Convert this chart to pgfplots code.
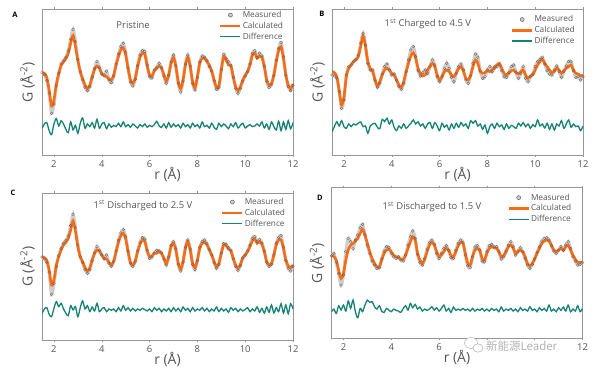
\documentclass[border=0pt]{standalone}
\usepackage{fontspec}
\setmainfont{Open Sans}
\newfontfamily\cjk{Noto Sans CJK SC}
\usepackage{pgfplots}
\usepackage{pgfplotstable}
\pgfplotsset{compat=1.18}
\definecolor{calc}{RGB}{250,108,20}
\definecolor{diffc}{RGB}{22,130,115}
\definecolor{measband}{RGB}{205,205,205}
\definecolor{measedge}{RGB}{95,95,95}
\definecolor{framec}{RGB}{150,150,150}
\definecolor{txt}{RGB}{85,85,85}

\pgfplotstableread{
r m c d
1.5 218 218 385
1.6 224 220 372
1.7 242 232 368
1.8 280 270 392
1.9 340 318 404
2.0 312 300 372
2.1 258 252 356
2.2 220 222 378
2.3 192 197 362
2.4 182 186 372
2.5 172 176 388
2.6 152 160 398
2.7 118 130 366
2.8 88 107 390
2.9 125 140 376
3.0 178 182 400
3.1 215 215 370
3.2 240 236 354
3.3 262 255 385
3.4 272 266 372
3.5 260 255 380
3.6 232 230 368
3.7 205 208 384
3.8 185 198 358
3.9 202 205 385
4.0 222 220 372
4.1 225 228 368
4.2 214 230 386
4.3 240 237 372
4.4 248 240 382
4.5 228 225 376
4.6 192 195 380
4.7 162 170 370
4.8 140 150 380
4.9 130 143 366
5.0 157 165 380
5.1 204 205 374
5.2 246 240 382
5.3 258 250 372
5.4 238 235 378
5.5 197 200 384
5.6 165 172 374
5.7 152 160 380
5.8 155 163 372
5.9 195 198 382
6.0 230 225 376
6.1 234 228 380
6.2 210 212 374
6.3 203 205 364
6.4 190 198 378
6.5 203 205 382
6.6 228 225 372
6.7 250 243 384
6.8 226 225 368
6.9 186 190 382
7.0 165 173 372
7.1 198 200 380
7.2 250 245 374
7.3 276 266 384
7.4 243 240 370
7.5 192 195 380
7.6 165 172 374
7.7 198 200 384
7.8 250 245 370
7.9 270 263 380
8.0 232 230 374
8.1 186 190 384
8.2 168 175 366
8.3 172 175 380
8.4 182 185 376
8.5 200 195 384
8.6 212 215 370
8.7 243 240 382
8.8 268 262 388
8.9 262 258 370
9.0 209 210 380
9.1 163 170 372
9.2 176 180 378
9.3 185 195 386
9.4 196 198 372
9.5 232 230 380
9.6 265 260 368
9.7 280 272 384
9.8 265 260 376
9.9 243 240 370
10.0 228 226 384
10.1 215 215 378
10.2 192 195 374
10.3 160 166 380
10.4 152 160 378
10.5 172 175 372
10.6 160 168 378
10.7 168 172 366
10.8 198 200 384
10.9 243 240 372
11.0 262 256 388
11.1 254 250 366
11.2 226 225 380
11.3 180 185 390
11.4 145 152 364
11.5 128 140 392
11.6 170 175 366
11.7 226 225 388
11.8 260 255 362
11.9 272 266 386
12.0 256 252 368
}\tabA

\pgfplotstableread{
r m c d
1.5 225 215 395
1.6 228 218 380
1.7 234 230 365
1.8 275 270 378
1.9 325 315 362
2.0 300 290 380
2.1 225 230 385
2.2 200 205 372
2.3 195 195 380
2.4 185 185 372
2.5 178 180 375
2.6 165 170 370
2.7 130 140 366
2.8 100 108 380
2.9 135 140 378
3.0 190 185 400
3.1 210 205 378
3.2 210 215 372
3.3 240 240 370
3.4 262 258 382
3.5 250 245 386
3.6 222 225 358
3.7 200 210 365
3.8 192 205 355
3.9 210 210 372
4.0 225 220 360
4.1 222 225 382
4.2 240 240 392
4.3 260 255 378
4.4 268 262 385
4.5 250 245 372
4.6 215 215 385
4.7 180 190 378
4.8 150 168 370
4.9 140 158 360
5.0 170 175 372
5.1 212 205 365
5.2 228 222 378
5.3 218 228 372
5.4 210 225 385
5.5 220 210 372
5.6 200 198 368
5.7 180 190 385
5.8 195 200 368
5.9 230 225 378
6.0 245 240 392
6.1 228 232 370
6.2 205 215 382
6.3 190 210 375
6.4 205 215 390
6.5 232 225 372
6.6 245 230 385
6.7 220 218 370
6.8 200 205 382
6.9 192 200 368
7.0 210 215 378
7.1 240 235 372
7.2 250 240 385
7.3 228 225 362
7.4 190 200 370
7.5 162 180 362
7.6 172 190 378
7.7 212 215 372
7.8 235 220 388
7.9 230 218 375
8.0 210 212 400
8.1 200 215 380
8.2 215 210 372
8.3 205 200 385
8.4 200 195 370
8.5 195 190 380
8.6 212 205 375
8.7 230 220 388
8.8 232 225 372
8.9 218 220 385
9.0 200 212 376
9.1 195 210 380
9.2 218 218 385
9.3 235 222 370
9.4 220 215 378
9.5 200 210 368
9.6 235 225 380
9.7 245 235 372
9.8 230 228 385
9.9 222 225 374
10.0 200 210 380
10.1 185 195 360
10.2 178 185 378
10.3 172 178 372
10.4 192 190 384
10.5 212 200 370
10.6 222 210 388
10.7 225 218 372
10.8 210 215 390
10.9 198 205 372
11.0 215 210 378
11.1 232 220 362
11.2 215 212 385
11.3 198 205 372
11.4 185 200 360
11.5 185 195 382
11.6 212 210 372
11.7 232 220 380
11.8 230 222 378
11.9 240 228 392
12.0 230 225 378
}\tabB

\pgfplotstableread{
r m c d
1.5 216 215 385
1.6 222 218 372
1.7 232 225 368
1.8 262 255 388
1.9 328 300 395
2.0 296 285 370
2.1 244 240 350
2.2 212 215 365
2.3 190 195 355
2.4 175 180 372
2.5 166 172 385
2.6 152 160 392
2.7 122 135 362
2.8 88 108 375
2.9 128 140 365
3.0 180 185 395
3.1 215 215 368
3.2 233 230 348
3.3 254 248 372
3.4 265 258 362
3.5 254 248 380
3.6 227 225 366
3.7 204 205 378
3.8 185 195 355
3.9 196 198 380
4.0 210 210 372
4.1 221 220 368
4.2 210 222 380
4.3 235 232 372
4.4 244 240 376
4.5 230 228 372
4.6 198 200 380
4.7 166 172 368
4.8 144 152 378
4.9 134 145 362
5.0 155 162 376
5.1 198 200 368
5.2 235 232 378
5.3 244 240 370
5.4 230 228 378
5.5 198 200 372
5.6 173 178 376
5.7 158 165 370
5.8 162 170 374
5.9 196 198 378
6.0 220 215 372
6.1 216 212 380
6.2 204 205 368
6.3 196 205 376
6.4 198 200 370
6.5 204 205 380
6.6 222 220 372
6.7 240 235 378
6.8 216 215 370
6.9 182 185 380
7.0 170 175 368
7.1 192 195 378
7.2 238 235 370
7.3 258 252 380
7.4 232 230 366
7.5 186 190 376
7.6 165 170 370
7.7 192 195 380
7.8 238 235 368
7.9 254 248 378
8.0 227 225 372
8.1 187 190 376
8.2 170 175 368
8.3 165 172 378
8.4 176 180 370
8.5 194 195 380
8.6 210 210 372
8.7 233 230 378
8.8 250 245 366
8.9 238 235 380
9.0 204 205 370
9.1 176 180 378
9.2 178 182 372
9.3 188 192 382
9.4 196 198 368
9.5 221 220 376
9.6 244 240 370
9.7 256 250 380
9.8 242 238 372
9.9 219 218 378
10.0 210 210 374
10.1 198 200 368
10.2 180 185 380
10.3 160 168 372
10.4 155 162 378
10.5 170 175 366
10.6 164 170 382
10.7 174 178 370
10.8 198 200 384
10.9 232 230 366
11.0 244 240 382
11.1 238 235 360
11.2 210 210 384
11.3 175 180 368
11.4 158 165 380
11.5 152 165 356
11.6 186 190 384
11.7 227 225 360
11.8 250 242 386
11.9 258 248 356
12.0 244 240 372
}\tabC

\pgfplotstableread{
r m c d
1.5 212 212 380
1.6 205 215 372
1.7 232 225 385
1.8 265 255 362
1.9 300 280 375
2.0 270 265 360
2.1 200 225 378
2.2 160 195 348
2.3 170 180 370
2.4 190 175 345
2.5 165 168 380
2.6 150 160 398
2.7 128 145 370
2.8 118 133 380
2.9 150 150 360
3.0 180 175 345
3.1 205 200 352
3.2 228 220 350
3.3 240 235 365
3.4 250 245 372
3.5 248 245 362
3.6 222 225 378
3.7 198 205 382
3.8 185 195 370
3.9 188 192 375
4.0 205 200 380
4.1 215 210 372
4.2 220 215 376
4.3 215 218 378
4.4 225 222 382
4.5 228 222 370
4.6 210 210 362
4.7 180 190 375
4.8 155 170 355
4.9 138 155 368
5.0 160 165 358
5.1 208 205 372
5.2 232 225 366
5.3 240 235 378
5.4 220 222 372
5.5 192 200 376
5.6 172 180 372
5.7 165 172 365
5.8 178 180 375
5.9 205 200 368
6.0 220 215 378
6.1 205 210 370
6.2 190 200 360
6.3 182 190 378
6.4 196 195 370
6.5 218 212 382
6.6 220 215 366
6.7 196 200 376
6.8 175 182 372
6.9 165 172 376
7.0 172 175 370
7.1 210 205 376
7.2 242 235 372
7.3 248 240 378
7.4 215 215 370
7.5 186 195 378
7.6 182 190 372
7.7 195 195 376
7.8 228 220 370
7.9 230 225 378
8.0 200 205 372
8.1 182 190 378
8.2 178 185 370
8.3 185 188 376
8.4 185 190 372
8.5 200 200 380
8.6 222 215 366
8.7 215 212 378
8.8 198 200 372
8.9 180 185 376
9.0 170 180 370
9.1 185 190 378
9.2 210 205 372
9.3 198 200 380
9.4 188 195 368
9.5 200 200 376
9.6 220 215 372
9.7 240 235 378
9.8 250 242 365
9.9 238 235 376
10.0 222 220 372
10.1 202 205 380
10.2 185 190 368
10.3 168 175 376
10.4 160 168 370
10.5 158 165 378
10.6 165 168 360
10.7 182 180 378
10.8 198 195 372
10.9 205 200 380
11.0 195 195 368
11.1 185 190 376
11.2 196 195 366
11.3 180 185 378
11.4 170 180 360
11.5 190 195 380
11.6 215 210 372
11.7 228 222 378
11.8 240 232 362
11.9 238 232 380
12.0 232 230 370
}\tabD

\tikzset{ttl/.style={font=\fontsize{9.5}{11}\selectfont, text=txt}}
\pgfplotsset{
  pdfpanel/.style={
    scale only axis, width=251bp, anchor=north west,
    xmin=1.5, xmax=12, y dir=reverse,
    ytick=\empty, xtick={2,4,6,8,10,12},
    axis line style={framec, line width=0.6bp},
    xtick style={framec, line width=0.5bp},
    tick align=outside, major tick length=2bp,
    /pgf/number format/assume math mode=true,
    xticklabel style={font=\fontsize{9.5}{10}\selectfont, text=txt},
    xlabel={r (Å)}, ylabel={G (Å\textsuperscript{-2})},
    xlabel style={at={(axis description cs:0.5,0)}, anchor=north, yshift=-12bp, inner sep=0pt, font=\fontsize{14}{16}\selectfont, text=txt},
    ylabel style={at={(axis description cs:-0.028,0.5)}, anchor=south, inner sep=0pt, font=\fontsize{14}{16}\selectfont, text=txt},
    legend style={draw=none, fill=none, anchor=north west, font=\fontsize{8.3}{9.8}\selectfont, text=txt, inner sep=0pt, row sep=1bp, nodes={inner sep=1bp}},
    legend cell align=left,
  },
  measline/.style={measband, line width=3.2bp, smooth, forget plot},
  measmark/.style={only marks, mark=o, mark size=1.4bp, measedge, mark options={line width=0.3bp},
    legend image code/.code={\draw[measedge, line width=0.5bp, fill=measband] (10bp,0bp) circle (2bp);}},
  calcline/.style={calc, line width=2.6bp, smooth,
    legend image code/.code={\draw[calc, line width=2.6bp] (0bp,0bp) -- (20bp,0bp);}},
  diffline/.style={diffc, line width=1.3bp, smooth,
    legend image code/.code={\draw[diffc, line width=1.3bp] (0bp,0bp) -- (20bp,0bp);}},
}

\begin{document}
\begin{tikzpicture}
\path[use as bounding box] (0,0) rectangle (600bp,-371bp);

% Panel A
\begin{axis}[pdfpanel, at={(42bp,-9.3bp)}, height=146bp, ymin=28, ymax=466,
  legend style={at={(axis description cs:0.705,0.995)}}]
\addplot[measline] table[x=r,y=m]{\tabA};
\addplot[measmark] table[x=r,y=m]{\tabA};
\addlegendentry{Measured}
\addplot[calcline] table[x=r,y=c]{\tabA};
\addlegendentry{Calculated}
\addplot[diffline] table[x=r,y=d]{\tabA};
\addlegendentry{Difference}
\node[ttl] at (axis description cs:0.363,0.892) {Pristine};
\end{axis}

% Panel B
\begin{axis}[pdfpanel, at={(332bp,-9.3bp)}, height=146bp, ymin=28, ymax=466,
  legend style={at={(axis description cs:0.712,0.965)}}]
\addplot[measline] table[x=r,y=m]{\tabB};
\addplot[measmark] table[x=r,y=m]{\tabB};
\addlegendentry{Measured}
\addplot[calcline] table[x=r,y=c]{\tabB};
\addlegendentry{Calculated}
\addplot[diffline] table[x=r,y=d]{\tabB};
\addlegendentry{Difference}
\node[ttl] at (axis description cs:0.382,0.90) {1\textsuperscript{st} Charged to 4.5 V};
\end{axis}

% Panel C
\begin{axis}[pdfpanel, at={(42bp,-193.3bp)}, height=147bp, ymin=25, ymax=466,
  legend style={at={(axis description cs:0.713,0.975)}}]
\addplot[measline] table[x=r,y=m]{\tabC};
\addplot[measmark] table[x=r,y=m]{\tabC};
\addlegendentry{Measured}
\addplot[calcline] table[x=r,y=c]{\tabC};
\addlegendentry{Calculated}
\addplot[diffline] table[x=r,y=d]{\tabC};
\addlegendentry{Difference}
\node[ttl] at (axis description cs:0.402,0.92) {1\textsuperscript{st} Discharged to 2.5 V};
\end{axis}

% Panel D (tick labels 8 and 10 are hidden by the watermark in the reference)
\begin{axis}[pdfpanel, at={(331.5bp,-187.7bp)}, height=150.7bp, ymin=8, ymax=460,
  xticklabels={2,4,6,{},{},12},
  legend style={at={(axis description cs:0.70,0.968)}}]
\addplot[measline] table[x=r,y=m]{\tabD};
\addplot[measmark] table[x=r,y=m]{\tabD};
\addlegendentry{Measured}
\addplot[calcline] table[x=r,y=c]{\tabD};
\addlegendentry{Calculated}
\addplot[diffline] table[x=r,y=d]{\tabD};
\addlegendentry{Difference}
\node[ttl] at (axis description cs:0.40,0.872) {1\textsuperscript{st} Discharged to 1.5 V};
\end{axis}

% panel letters
\node[font=\bfseries\fontsize{7.5}{8}\selectfont] at (15bp,-15bp) {A};
\node[font=\bfseries\fontsize{7.5}{8}\selectfont] at (322bp,-14bp) {B};
\node[font=\bfseries\fontsize{7.5}{8}\selectfont] at (13bp,-193bp) {C};
\node[font=\bfseries\fontsize{7.5}{8}\selectfont] at (320bp,-198bp) {D};

% watermark
\node[inner sep=0pt, text=gray!60, font=\cjk\fontsize{11.5}{12}\selectfont, anchor=west] at (486bp,-346bp) {新能源Leader};
\draw[gray!60, line width=0.5bp, fill=white] (471bp,-343bp) ellipse (6.5bp and 5.5bp);
\draw[gray!60, line width=0.5bp, fill=white] (478bp,-348bp) ellipse (5bp and 4.2bp);
\end{tikzpicture}
\end{document}
